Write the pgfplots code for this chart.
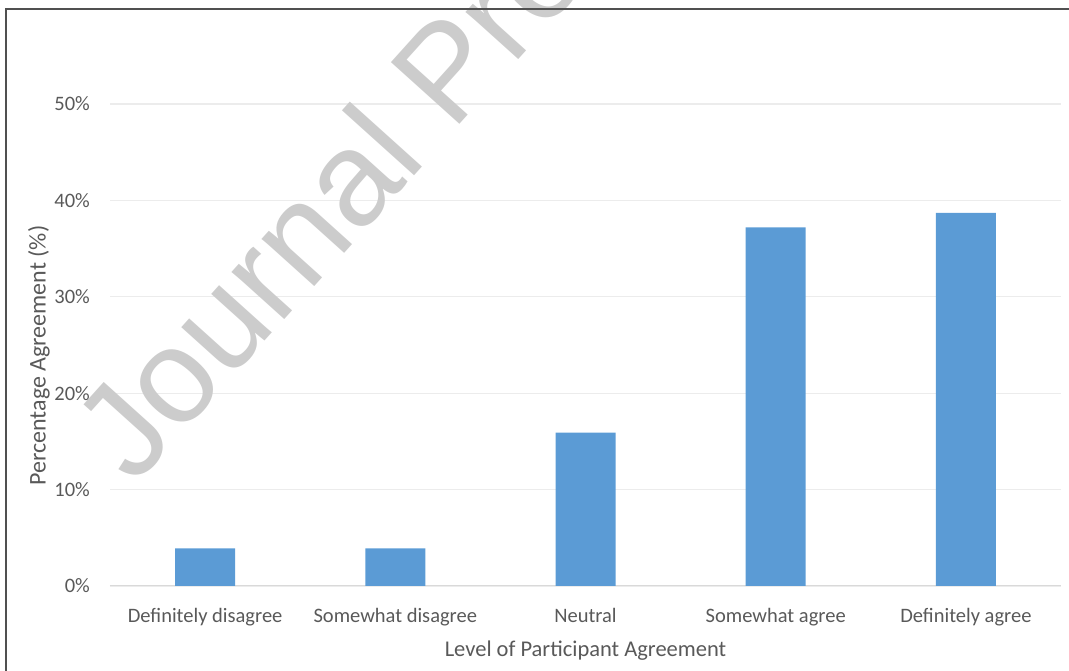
\documentclass[border=0pt]{standalone}
\usepackage{fontspec}
\setmainfont{Carlito}
\newfontfamily\wmfont{Liberation Sans}
\usepackage{pgfplots}
\pgfplotsset{compat=1.18}

\definecolor{barblue}{HTML}{5B9BD5}
\definecolor{labelgray}{HTML}{595959}
\definecolor{gridgray}{HTML}{ECECEC}
\definecolor{basegray}{HTML}{D9D9D9}
\definecolor{framegray}{HTML}{505050}
\definecolor{markgray}{HTML}{CCCCCC}

\begin{document}
\begin{tikzpicture}
\useasboundingbox (0pt,0pt) rectangle (1069pt,671pt);
\begin{axis}[
  at={(110pt,85pt)}, anchor=south west,
  scale only axis, width=951pt, height=482pt,
  xmin=-0.5, xmax=4.5, ymin=0, ymax=50,
  axis line style={draw=none},
  major tick length=0pt,
  ytick={0,10,20,30,40,50},
  yticklabel={\pgfmathprintnumber[assume math mode=true]{\tick}\%},
  ymajorgrids,
  grid style={color=gridgray, line width=1.3pt},
  xtick=data,
  xticklabels={Definitely disagree, Somewhat disagree, Neutral, Somewhat agree, Definitely agree},
  tick label style={text=labelgray, font=\fontsize{20.5}{24}\selectfont},
  yticklabel style={anchor=east, inner sep=0pt, xshift=-20pt},
  xticklabel style={anchor=base, inner sep=0pt, yshift=-36.5pt},
  xlabel={Level of Participant Agreement},
  ylabel={Percentage Agreement (\%)},
  xlabel style={at={(axis description cs:0.5,0)}, anchor=base, yshift=-71pt,
    text=labelgray, font=\fontsize{22.5}{26}\selectfont},
  ylabel style={at={(axis description cs:-0.0678,0.478)}, anchor=base, rotate=0,
    text=labelgray, font=\fontsize{24}{28}\selectfont},
  ybar, bar width=60pt,
]
\draw[basegray, line width=1.5pt] (axis cs:-0.5,0) -- (axis cs:4.5,0);
\addplot[fill=barblue, draw=none] coordinates {
  (0,3.9) (1,3.9) (2,15.9) (3,37.2) (4,38.7)
};
\end{axis}
% watermark
\node[anchor=base west, rotate=48, inner sep=0pt, text=markgray,
  font=\wmfont\fontsize{134}{140}\selectfont] at (134pt,184pt) {Journal Pre-proof};
% page frame
\draw[framegray, line width=2.2pt] (6pt,-10pt) -- (6pt,662pt) -- (1080pt,662pt);
\end{tikzpicture}
\end{document}
